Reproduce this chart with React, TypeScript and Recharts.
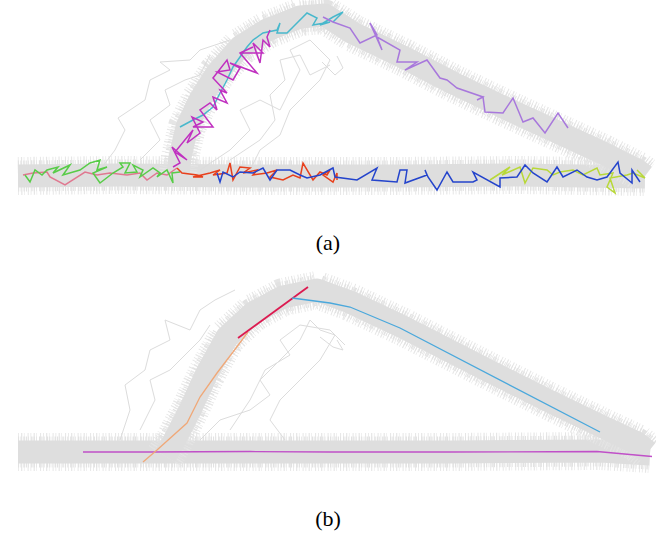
import React from "react";
import { LineChart, Line, XAxis, YAxis } from "recharts";

type P = [number, number];

// panel (a) – gray bundle centre lines
const bandA_bottom: P[] = [[18, 176], [120, 175], [250, 176], [400, 176], [520, 175], [645, 177]];
const bandA_arch: P[] = [[178, 174], [180, 157], [187, 127], [200, 100], [217, 73], [240, 47], [267, 30], [300, 17], [325, 15], [353, 33], [403, 57], [453, 83], [503, 107], [553, 130], [603, 153], [637, 170], [645, 176]];
const grayA: P[][] = [
  [[100, 170], [115, 150], [125, 130], [118, 118], [130, 110], [145, 100], [150, 80], [170, 70], [160, 62], [190, 60], [200, 50], [215, 45], [230, 40]],
  [[140, 160], [160, 140], [150, 120], [170, 105], [165, 90], [185, 80], [200, 75], [210, 55]],
  [[200, 170], [230, 150], [250, 130], [240, 110], [260, 100], [280, 110], [290, 90], [300, 70], [290, 50], [310, 40], [330, 60], [320, 80], [290, 110], [280, 135], [260, 150], [250, 170]],
  [[230, 160], [260, 140], [275, 120], [270, 95], [285, 80], [280, 60], [300, 55], [310, 75], [330, 65]],
  [[322, 62], [335, 75], [343, 68], [337, 56]],
];

// panel (a) – coloured walks
const pinkA: P[] = [[23, 175], [33, 173], [47, 172], [50, 177], [65, 185], [85, 172], [97, 175], [110, 173], [127, 175], [140, 173], [147, 180], [157, 173], [167, 175], [177, 168]];
const greenA: P[] = [[25, 175], [30, 182], [35, 170], [42, 175], [47, 170], [58, 167], [53, 173], [70, 165], [63, 175], [80, 170], [90, 163], [100, 160], [97, 170], [107, 167], [93, 173], [100, 183], [113, 173], [123, 167], [120, 163], [130, 163], [125, 173], [137, 172], [133, 165], [143, 170], [140, 177], [153, 168], [160, 173], [157, 177], [167, 170], [173, 183], [172, 173], [180, 172]];
const magentaA: P[] = [[173, 167], [180, 163], [172, 147], [187, 160], [175, 152], [193, 130], [187, 143], [200, 133], [192, 117], [203, 122], [193, 127], [213, 127], [200, 110], [210, 103], [217, 110], [213, 97], [227, 103], [220, 90], [227, 93], [213, 78], [227, 60], [230, 70], [217, 72], [233, 80], [240, 68], [230, 63], [257, 73], [240, 53], [253, 47], [240, 53], [263, 53], [253, 43], [260, 63], [263, 40], [270, 47], [267, 37], [270, 30]];
const cyanA: P[] = [[180, 127], [193, 120], [203, 115], [213, 107], [220, 93], [227, 80], [233, 67], [240, 57], [247, 47], [253, 40], [263, 33], [277, 30], [280, 23], [277, 33], [287, 33], [293, 27], [307, 13], [317, 18], [313, 25], [330, 22], [320, 25], [333, 17], [343, 12], [333, 22]];
const purpleA: P[] = [[323, 17], [333, 22], [350, 28], [360, 43], [377, 35], [370, 23], [382, 50], [377, 37], [400, 50], [397, 62], [417, 62], [405, 70], [427, 60], [440, 78], [447, 80], [457, 88], [483, 97], [477, 100], [483, 97], [485, 112], [503, 113], [513, 98], [523, 122], [533, 118], [545, 133], [558, 113], [568, 128]];
const redA: P[] = [[177, 168], [182, 173], [197, 175], [203, 177], [193, 177], [210, 173], [220, 170], [213, 175], [227, 173], [230, 163], [233, 180], [240, 167], [250, 168], [243, 173], [257, 170], [253, 175], [267, 173], [277, 170], [270, 177], [283, 180], [293, 175], [300, 178], [303, 163], [313, 180], [320, 172], [327, 175], [330, 170], [323, 175], [333, 182], [337, 173], [337, 180]];
const blueA: P[] = [[217, 173], [220, 182], [223, 172], [233, 177], [240, 172], [253, 173], [263, 168], [270, 180], [277, 170], [290, 170], [300, 175], [307, 178], [320, 175], [333, 168], [335, 177], [357, 180], [377, 168], [372, 180], [397, 182], [400, 170], [407, 170], [405, 183], [427, 175], [425, 170], [428, 177], [437, 190], [447, 172], [453, 182], [473, 182], [477, 180], [473, 172], [500, 187], [500, 178], [517, 177], [525, 165], [533, 173], [547, 182], [557, 167], [563, 177], [577, 170], [587, 177], [597, 180], [607, 177], [618, 162], [620, 173], [632, 183], [632, 170], [640, 182]];
const limeA: P[] = [[490, 180], [510, 167], [502, 175], [520, 167], [525, 183], [533, 168], [547, 170], [553, 175], [560, 172], [573, 170], [583, 175], [597, 168], [600, 175], [613, 173], [607, 187], [615, 193], [610, 178], [627, 175], [633, 173], [645, 178], [637, 170]];

// panel (b) – gray bundle centre lines
const bandB_bottom: P[] = [[18, 182], [150, 182], [300, 182], [450, 182], [600, 181], [650, 184]];
const bandB_arch: P[] = [[165, 186], [173, 173], [190, 140], [207, 103], [227, 67], [253, 43], [283, 27], [317, 20], [350, 32], [403, 57], [487, 100], [553, 133], [603, 157], [637, 173], [648, 182]];
const grayB: P[][] = [
  [[120, 170], [130, 140], [125, 115], [145, 100], [150, 80], [170, 70], [165, 50], [190, 60], [200, 40], [215, 30], [235, 20]],
  [[140, 160], [155, 130], [150, 110], [170, 100], [185, 85], [200, 70], [210, 55]],
  [[200, 170], [220, 150], [250, 140], [270, 125], [260, 110], [280, 90], [300, 70], [310, 50], [320, 60], [335, 65], [320, 90], [300, 110], [280, 130], [270, 150], [285, 170]],
  [[230, 160], [250, 130], [265, 100], [290, 85], [280, 70], [300, 55], [330, 60], [345, 75]],
  [[320, 67], [333, 77], [343, 80], [337, 70]],
];

// panel (b) – coloured paths
const purpleB: P[] = [[83, 182], [150, 182], [250, 181.5], [330, 182], [450, 182], [597, 181.5], [652, 186.5]];
const orangeB: P[] = [[143, 192], [157, 180], [187, 153], [200, 127], [217, 103], [233, 82], [248, 62]];
const crimsonB: P[] = [[238, 68], [308, 17]];
const blueB: P[] = [[292, 28], [330, 33], [350, 37], [400, 58], [600, 162]];

const pts = (a: P[]) => a.map(([x, y]) => ({ x, y }));

const Band = ({ data }: { data: P[] }) => [
  <Line key="f1" data={pts(data)} dataKey="y" stroke="#e6e6e6" strokeWidth={38} strokeDasharray="0.8 2.3 1.2 1.6 0.6 3.1 1 1.9" strokeLinejoin="round" dot={false} activeDot={false} isAnimationActive={false} />,
  <Line key="f2" data={pts(data)} dataKey="y" stroke="#e2e2e2" strokeWidth={31} strokeDasharray="1.1 1.4 0.7 2.2 1.3 1.1" strokeLinejoin="round" dot={false} activeDot={false} isAnimationActive={false} />,
  <Line key="c" data={pts(data)} dataKey="y" stroke="#dedede" strokeWidth={23} strokeLinejoin="round" dot={false} activeDot={false} isAnimationActive={false} />,
];

const walk = (data: P[], color: string, key: string, w = 1.5) => (
  <Line key={key} data={pts(data)} dataKey="y" stroke={color} strokeWidth={w} strokeLinejoin="miter" dot={false} activeDot={false} isAnimationActive={false} />
);

const Panel = ({ height, children }: { height: number; children: React.ReactNode }) => (
  <LineChart width={656} height={height} margin={{ top: 0, right: 0, bottom: 0, left: 0 }}>
    <XAxis type="number" dataKey="x" domain={[0, 656]} hide />
    <YAxis type="number" domain={[0, height]} reversed hide />
    {children}
  </LineChart>
);

const labelStyle: React.CSSProperties = {
  position: "absolute",
  left: 0,
  width: 656,
  textAlign: "center",
  fontFamily: "'Liberation Serif', serif",
  fontSize: 22,
};

export default function App() {
  return (
    <div style={{ position: "absolute", left: 0, top: 0, width: 656, height: 538, background: "#fff" }}>
      <div style={{ position: "absolute", left: 0, top: 0 }}>
        <Panel height={215}>
          {Band({ data: bandA_bottom })}
          {Band({ data: bandA_arch })}
          {grayA.map((g, i) => walk(g, "#dcdcdc", `ga${i}`, 1))}
          {walk(pinkA, "#e07890", "pinkA")}
          {walk(greenA, "#58cc48", "greenA")}
          {walk(cyanA, "#48b8cc", "cyanA")}
          {walk(magentaA, "#c030c0", "magA")}
          {walk(purpleA, "#a878dc", "purA")}
          {walk(limeA, "#b8d838", "limeA")}
          {walk(redA, "#e8401c", "redA")}
          {walk(blueA, "#2444cc", "blueA")}
        </Panel>
      </div>
      <div style={{ ...labelStyle, top: 230 }}>(a)</div>
      <div style={{ position: "absolute", left: 0, top: 270 }}>
        <Panel height={210}>
          {Band({ data: bandB_bottom })}
          {Band({ data: bandB_arch })}
          {grayB.map((g, i) => walk(g, "#dcdcdc", `gb${i}`, 1))}
          {walk(purpleB, "#c050c8", "purB", 1.3)}
          {walk(orangeB, "#f0a878", "orB", 1.3)}
          {walk(crimsonB, "#dc1a50", "crB", 1.8)}
          {walk(blueB, "#4aa8dc", "blB", 1.3)}
        </Panel>
      </div>
      <div style={{ ...labelStyle, top: 506 }}>(b)</div>
    </div>
  );
}
